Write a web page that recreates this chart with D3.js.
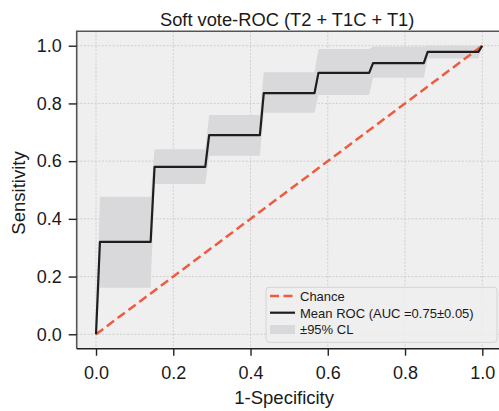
<!DOCTYPE html>
<html>
<head>
<meta charset="utf-8">
<script src="https://cdn.jsdelivr.net/npm/d3@7"></script>
<style>
  html, body { margin: 0; padding: 0; background: #fff; }
  svg { display: block; font-family: "Liberation Sans", Arial, sans-serif; }
</style>
</head>
<body>
<div id="chart"></div>
<script>
// mean ROC (fpr grid from the interpolation)
const fpr = [0, 0.0101, 0.1414, 0.1515, 0.2828, 0.2929, 0.4242, 0.4343, 0.5657, 0.5758, 0.7071, 0.7172, 0.8485, 0.8586, 0.9899, 1.0]
const tprMean = [0, 0.32, 0.32, 0.58, 0.58, 0.69, 0.69, 0.836, 0.836, 0.906, 0.906, 0.94, 0.94, 0.979, 0.979, 1.0]
const tprUpper = [0, 0.477, 0.477, 0.641, 0.641, 0.76, 0.76, 0.908, 0.908, 0.989, 0.989, 0.997, 0.997, 1.0, 1.0, 1.0]
const tprLower = [0, 0.161, 0.161, 0.521, 0.521, 0.619, 0.619, 0.768, 0.768, 0.829, 0.829, 0.889, 0.889, 0.956, 0.956, 1.0]
const chance = [[0, 0], [1, 1]]
const ticks = [0, 0.2, 0.4, 0.6, 0.8, 1.0]
const legendLabels = ["Chance", "Mean ROC (AUC =0.75\u00b10.05)", "\u00b195% CL"]
const title = "Soft vote-ROC (T2 + T1C + T1)"

const width = 499
const height = 411
const plot = {left: 76.7, right: 501.6, top: 31.3, bottom: 348.7}

const bg = "#efefef"
const bandColor = "#d9d9db"
const lineColor = "#1e1e1e"
const chanceColor = "#f05a3f"
const textColor = "#1a1a1a"

const x = d3.scaleLinear().domain([-0.05, 1.05]).range([plot.left, plot.right])
const y = d3.scaleLinear().domain([-0.05, 1.05]).range([plot.bottom, plot.top])

const svg = d3.select("#chart").append("svg")
    .attr("width", width)
    .attr("height", height)

svg.append("rect")
    .attr("x", plot.left)
    .attr("y", plot.top)
    .attr("width", plot.right - plot.left)
    .attr("height", plot.bottom - plot.top)
    .attr("fill", bg)

// grid
const grid = svg.append("g")
    .attr("stroke", "#c6c6c6")
    .attr("stroke-width", 0.8)
    .attr("stroke-dasharray", "2,1.6")
grid.selectAll(".gx").data(ticks).join("line")
    .attr("x1", d => x(d)).attr("x2", d => x(d))
    .attr("y1", plot.top).attr("y2", plot.bottom)
grid.selectAll(".gy").data(ticks).join("line")
    .attr("y1", d => y(d)).attr("y2", d => y(d))
    .attr("x1", plot.left).attr("x2", plot.right)

const pts = fpr.map((f, i) => ({x: f, m: tprMean[i], lo: tprLower[i], hi: tprUpper[i]}))

svg.append("path")
    .datum(pts)
    .attr("fill", bandColor)
    .attr("d", d3.area().x(d => x(d.x)).y0(d => y(d.lo)).y1(d => y(d.hi)))

svg.append("path")
    .datum(chance)
    .attr("fill", "none")
    .attr("stroke", chanceColor)
    .attr("stroke-width", 2.5)
    .attr("stroke-dasharray", "9,4.5")
    .attr("d", d3.line().x(d => x(d[0])).y(d => y(d[1])))

svg.append("path")
    .datum(pts)
    .attr("fill", "none")
    .attr("stroke", lineColor)
    .attr("stroke-width", 2.2)
    .attr("stroke-linejoin", "round")
    .attr("d", d3.line().x(d => x(d.x)).y(d => y(d.m)))

// frame
svg.append("path")
    .attr("fill", "none")
    .attr("stroke", "#555")
    .attr("stroke-width", 1.6)
    .attr("d", `M${plot.left},${plot.bottom}V${plot.top}H${plot.right}`)
svg.append("line")
    .attr("x1", plot.left).attr("x2", plot.right)
    .attr("y1", plot.bottom).attr("y2", plot.bottom)
    .attr("stroke", "#222")
    .attr("stroke-width", 1.6)

// axes
const fmt = d3.format(".1f")
svg.append("g")
    .attr("transform", `translate(0,${plot.bottom})`)
    .call(d3.axisBottom(x).tickValues(ticks).tickFormat(fmt).tickSize(7).tickPadding(11))
    .call(g => g.select(".domain").remove())
    .call(g => g.selectAll(".tick line").attr("stroke", "#222").attr("stroke-width", 1.4))
    .call(g => g.selectAll(".tick text").attr("font-size", 18).attr("fill", textColor)
      .attr("font-family", "Liberation Sans, Arial, sans-serif"))

svg.append("g")
    .attr("transform", `translate(${plot.left},0)`)
    .call(d3.axisLeft(y).tickValues(ticks).tickFormat(fmt).tickSize(8).tickPadding(7))
    .call(g => g.select(".domain").remove())
    .call(g => g.selectAll(".tick line").attr("stroke", "#222").attr("stroke-width", 1.4))
    .call(g => g.selectAll(".tick text").attr("font-size", 18).attr("fill", textColor)
      .attr("font-family", "Liberation Sans, Arial, sans-serif"))

svg.append("text")
    .attr("x", (plot.left + plot.right) / 2 - 2)
    .attr("y", 26)
    .attr("text-anchor", "middle")
    .attr("font-size", 18.3)
    .attr("fill", textColor)
    .text(title)

svg.append("text")
    .attr("x", (plot.left + plot.right) / 2 - 5)
    .attr("y", 404)
    .attr("text-anchor", "middle")
    .attr("font-size", 18.5)
    .attr("fill", textColor)
    .text("1-Specificity")

svg.append("text")
    .attr("transform", `translate(25,193) rotate(-90)`)
    .attr("text-anchor", "middle")
    .attr("font-size", 18.5)
    .attr("fill", textColor)
    .text("Sensitivity")

// legend
const lg = svg.append("g").attr("transform", "translate(266,287.3)")
lg.append("rect")
    .attr("width", 231)
    .attr("height", 55)
    .attr("rx", 3)
    .attr("fill", "#efefef")
    .attr("fill-opacity", 0.85)
    .attr("stroke", "#d4d4d4")
    .attr("stroke-width", 1)

const rows = lg.selectAll(".row").data(legendLabels).join("g")
    .attr("transform", (d, i) => `translate(0,${8.6 + i * 16.8})`)
rows.append("text")
    .attr("x", 34)
    .attr("y", 4.8)
    .attr("font-size", 13)
    .attr("fill", textColor)
    .text(d => d)
rows.filter((d, i) => i === 0).append("line")
    .attr("x1", 4).attr("x2", 29)
    .attr("stroke", chanceColor).attr("stroke-width", 2.5)
    .attr("stroke-dasharray", "9,4.5")
rows.filter((d, i) => i === 1).append("line")
    .attr("x1", 4).attr("x2", 29)
    .attr("stroke", lineColor).attr("stroke-width", 2.2)
rows.filter((d, i) => i === 2).append("rect")
    .attr("x", 4).attr("y", -4.5).attr("width", 25).attr("height", 9)
    .attr("fill", bandColor)
</script>
</body>
</html>
